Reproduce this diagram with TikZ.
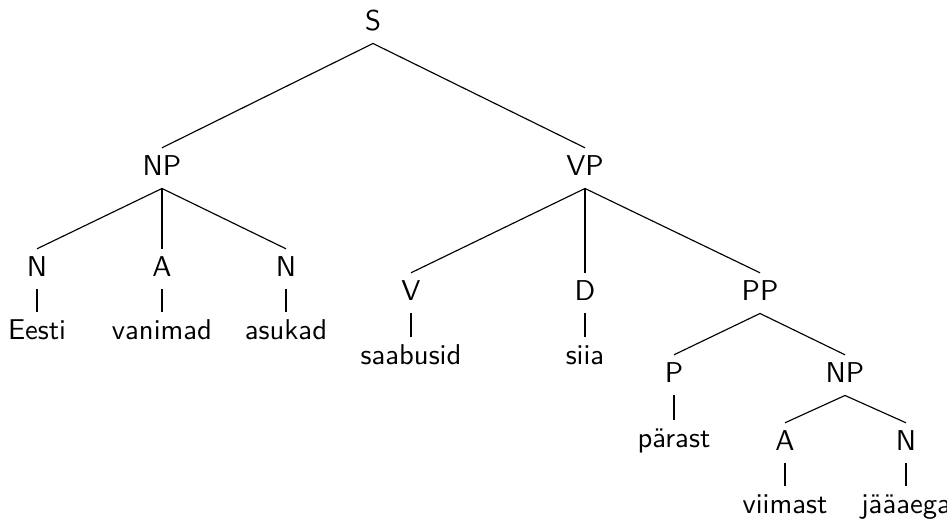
\documentclass[tikz,border=0pt]{standalone}
\usepackage{tikz}
\tikzset{
  cat/.style={font=\sffamily,anchor=base,inner sep=0.9pt,text height=8.4pt,text depth=3.6pt},
  word/.style={cat},
  branch/.style={draw=black,thin}
}
\begin{document}
\begin{tikzpicture}[x=0.349pt,y=-0.349pt]
\useasboundingbox (0,0) rectangle (947,522);
\node[cat] (s) at (373,30) {S};
\node[cat] (np) at (162,175) {NP};
\node[cat] (vp) at (585,175) {VP};
\node[cat] (na) at (37,276) {N};
\node[cat] (aa) at (162,276) {A};
\node[cat] (nb) at (286,276) {N};
\node[word] (eesti) at (37,339) {Eesti};
\node[word] (vanimad) at (162,339) {vanimad};
\node[word] (asukad) at (286,339) {asukad};
\node[cat] (v) at (411,300) {V};
\node[cat] (d) at (585,300) {D};
\node[cat] (pp) at (760,300) {PP};
\node[word] (saabusid) at (411,364) {saabusid};
\node[word] (siia) at (585,364) {siia};
\node[cat] (p) at (674,382) {P};
\node[cat] (npb) at (845,382) {NP};
\node[word] (parast) at (674,447) {pärast};
\node[cat] (ab) at (785,450) {A};
\node[cat] (nc) at (906,450) {N};
\node[word] (viimast) at (785,513) {viimast};
\node[word] (jaaaega) at (906,513) {jääaega};
\draw[branch] (s.south)--(np.north);
\draw[branch] (s.south)--(vp.north);
\draw[branch] (np.south)--(na.north);
\draw[branch] (np.south)--(aa.north);
\draw[branch] (np.south)--(nb.north);
\draw[branch] (na.south)--(eesti.north);
\draw[branch] (aa.south)--(vanimad.north);
\draw[branch] (nb.south)--(asukad.north);
\draw[branch] (vp.south)--(v.north);
\draw[branch] (vp.south)--(d.north);
\draw[branch] (vp.south)--(pp.north);
\draw[branch] (v.south)--(saabusid.north);
\draw[branch] (d.south)--(siia.north);
\draw[branch] (pp.south)--(p.north);
\draw[branch] (pp.south)--(npb.north);
\draw[branch] (p.south)--(parast.north);
\draw[branch] (npb.south)--(ab.north);
\draw[branch] (npb.south)--(nc.north);
\draw[branch] (ab.south)--(viimast.north);
\draw[branch] (nc.south)--(jaaaega.north);
\end{tikzpicture}
\end{document}
